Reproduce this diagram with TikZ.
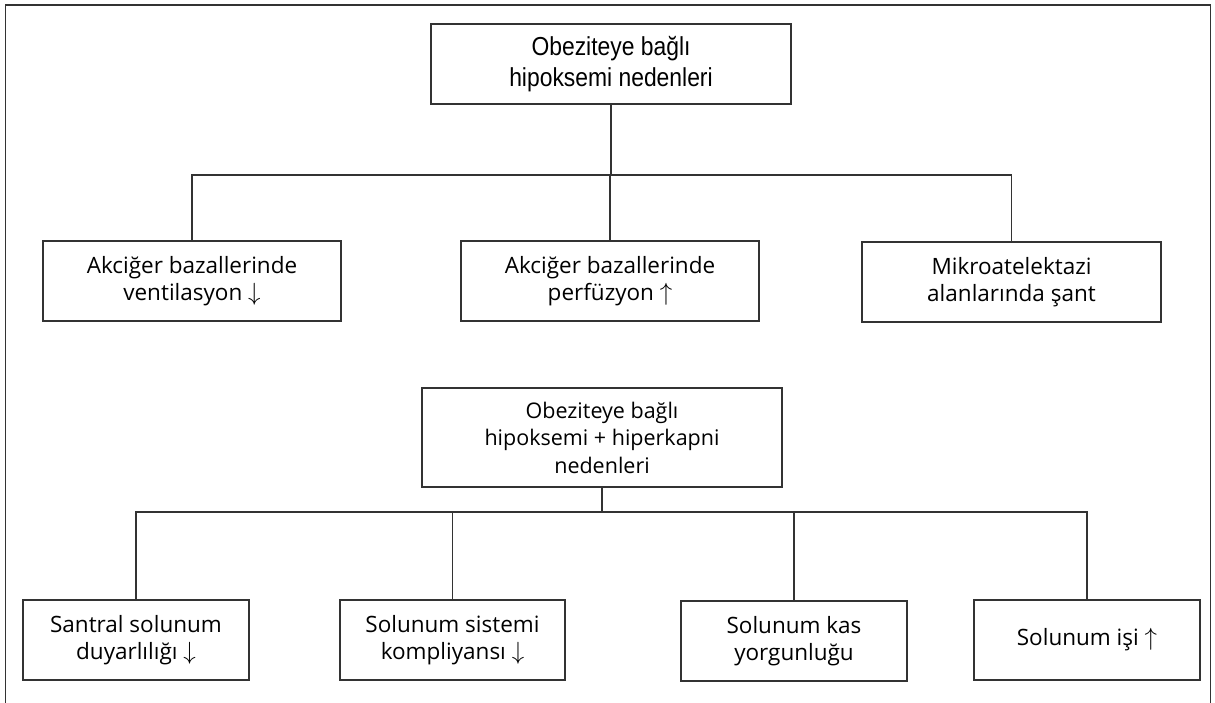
\documentclass[tikz,border=0pt]{standalone}
\usepackage{fontspec}
\setmainfont{Open Sans}
\newfontfamily\narrowfont[FakeStretch=0.88]{Liberation Sans}
\newcommand{\dn}{{\fontsize{24}{24}\selectfont$\smash{\downarrow}$}}
\newcommand{\upp}{{\fontsize{24}{24}\selectfont$\smash{\uparrow}$}}
\usepackage{tikz}

\begin{document}
\begin{tikzpicture}[x=1pt,y=-1pt,
  box/.style={draw=black!80,line width=1.3pt,align=center,inner sep=0pt,
    minimum height=80pt,font=\fontsize{22.5}{26.5}\selectfont},
  low/.style={box,minimum width=226pt,font=\fontsize{22.5}{27}\selectfont},
  link/.style={draw=black!80,line width=1.3pt}]
\useasboundingbox (0,0) rectangle (1215,703);
\draw [link] (5.5,703) -- (5.5,5) -- (1210.5,5) -- (1210.5,703);
% upper tree
\node [box,minimum width=360pt,font=\narrowfont\fontsize{26}{31}\selectfont] (top) at (611,64) {Obeziteye bağlı\\hipoksemi nedenleri};
\node [box,minimum width=298pt] (vent) at (192,281) {Akciğer bazallerinde\\ventilasyon \dn};
\node [box,minimum width=298pt] (perf) at (610,281) {Akciğer bazallerinde\\perfüzyon \upp};
\node [box,minimum width=299pt] (sant) at (1011.5,282) {Mikroatelektazi\\alanlarında şant};
\coordinate (bus1) at (0,175);
\draw [link] (top.south) -- (top.south |- bus1);
\draw [link] (vent.north) -- (vent.north |- bus1) -- (sant.north |- bus1) -- (sant.north);
\draw [link] (perf.north) -- (perf.north |- bus1);
%
% lower tree
\node [box,minimum width=360pt,minimum height=99pt,font=\fontsize{21.5}{27.5}\selectfont] (mid) at (602,437.5) {Obeziteye bağlı\\hipoksemi + hiperkapni\\nedenleri};
\node [low] (duy) at (136,640) {Santral solunum\\duyarlılığı \dn};
\node [low,minimum width=225pt] (komp) at (452.5,640) {Solunum sistemi\\kompliyansı \dn};
\node [low] (yorg) at (794,641) {Solunum kas\\yorgunluğu};
\node [low] (isi) at (1087,640) {Solunum işi \upp};
\coordinate (bus2) at (0,512);
\draw [link] (mid.south) -- (mid.south |- bus2);
\draw [link] (duy.north) -- (duy.north |- bus2) -- (isi.north |- bus2) -- (isi.north);
\draw [link] (komp.north) -- (komp.north |- bus2);
\draw [link] (yorg.north) -- (yorg.north |- bus2);
\end{tikzpicture}
\end{document}
